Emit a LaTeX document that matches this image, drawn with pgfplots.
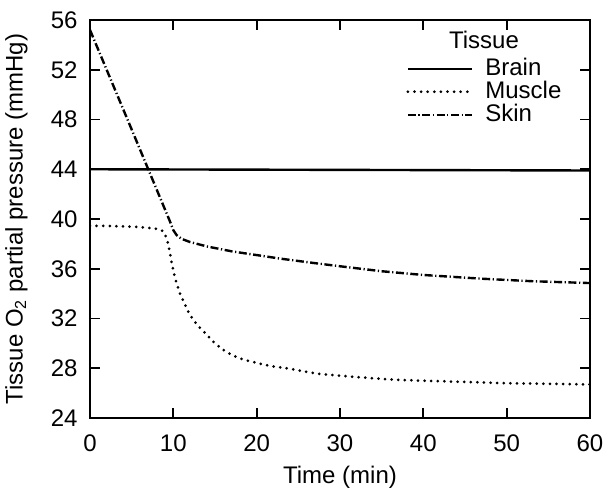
\documentclass[border=0pt]{standalone}
\usepackage{fontspec}
\setmainfont{Liberation Sans}
\usepackage{pgfplots}
\pgfplotsset{compat=1.18}

\begin{document}
\fontsize{12}{14.4}\selectfont
\begin{tikzpicture}
\path[use as bounding box] (-45pt,-35pt) rectangle (259pt,209pt);
\begin{axis}[
    at={(0,0)}, anchor=south west,
    width=250pt, height=199pt, scale only axis,
    xmin=0, xmax=60, ymin=24, ymax=56,
    xtick={0,10,...,60}, ytick={24,28,...,56},
    tick align=inside, major tick length=5pt,
    every tick/.style={black, line width=0.9pt},
    axis line style={line width=1pt},
    /pgf/number format/assume math mode=true,
    tick label style={font=\fontsize{12}{14.4}\selectfont},
    label style={font=\fontsize{12}{14.4}\selectfont},
    xticklabel style={yshift=-4pt},
    yticklabel style={xshift=-2pt},
    xlabel={Time (min)},
    ylabel={Tissue O\textsubscript{2} partial pressure (mmHg)},
    xlabel style={inner sep=0pt},
    xlabel shift=3pt, ylabel shift=3.5pt,
    legend cell align=left,
    legend style={draw=none, fill=none, at={(rel axis cs:0.62,0.925)}, anchor=north west,
        font=\fontsize{12}{14.4}\selectfont, row sep=-3pt, column sep=4pt},
    legend image code/.code={\draw[#1] (0pt,0pt) -- (32pt,0pt);},
]
\addplot[black, line width=1.2pt] coordinates {(0,44.0) (60,43.9)};
\addlegendentry{Brain}
\addplot[black, line width=1.5pt, line cap=round, dash pattern=on 0pt off 3.3pt, smooth] coordinates {
    (0,39.45) (2,39.44) (4,39.4) (6,39.35) (8,39.2) (8.8,39.0) (9.2,38.4)
    (9.5,37.6) (9.8,36.5) (10.2,35.3) (10.6,34.4) (11,33.7) (12,32.3)
    (13,31.4) (14,30.7) (15,30.0) (16.4,29.3) (18,28.8) (19.6,28.5)
    (21.5,28.2) (23.6,28.0) (27,27.6) (30,27.4) (36,27.1) (40,27.0)
    (45,26.9) (50,26.8) (55,26.75) (60,26.7)
};
\addlegendentry{Muscle}
\addplot[black, line width=1.2pt, dash pattern=on 4pt off 1.3pt on 0.6pt off 1.3pt] coordinates {
    (0,55.2) (5,47.2) (9.6,39.8) (10.0,39.1) (10.4,38.7) (11,38.4) (12,38.15)
    (14,37.8) (17,37.4) (20,37.1) (23,36.8) (27,36.45) (30,36.2) (35,35.8)
    (40,35.5) (47,35.2) (53,35.0) (60,34.85)
};
\addlegendentry{Skin}
\node at (rel axis cs:0.788,0.95) {Tissue};
\end{axis}
\end{tikzpicture}
\end{document}
